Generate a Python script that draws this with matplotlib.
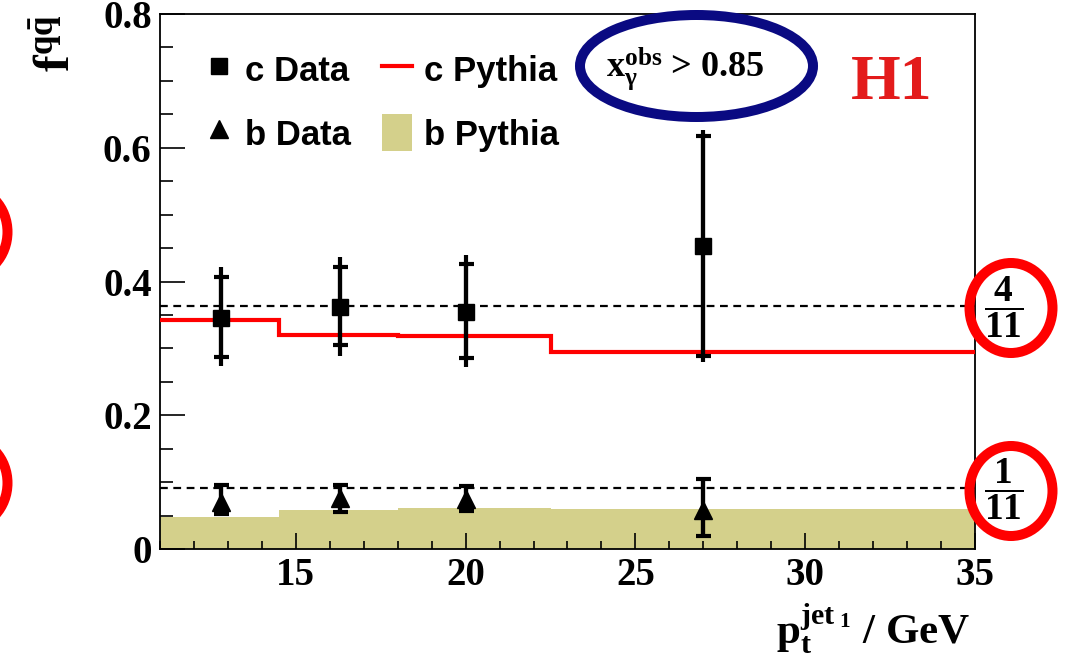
import numpy as np
import matplotlib
matplotlib.use('Agg')
import matplotlib.pyplot as plt
from matplotlib.patches import Ellipse, Patch
from matplotlib.lines import Line2D
from matplotlib.ticker import MultipleLocator

plt.rcParams['font.family'] = 'Liberation Serif'
plt.rcParams['font.weight'] = 'bold'
plt.rcParams['mathtext.fontset'] = 'custom'
plt.rcParams['mathtext.bf'] = 'Liberation Serif:bold'
plt.rcParams['mathtext.rm'] = 'Liberation Serif:bold'
plt.rcParams['mathtext.it'] = 'Liberation Serif:bold'

# charm data (points, stat and total errors)
x_data = [12.8, 16.3, 20.0, 27.0]
c_val = [0.345, 0.362, 0.355, 0.453]
c_stat_up = [0.061, 0.059, 0.071, 0.165]
c_stat_dn = [0.058, 0.057, 0.070, 0.164]
c_tot_up = [0.077, 0.075, 0.085, 0.174]
c_tot_dn = [0.072, 0.074, 0.083, 0.174]

# beauty data
b_val = [0.071, 0.076, 0.075, 0.059]
b_stat_up = [0.025, 0.020, 0.019, 0.046]
b_stat_dn = [0.019, 0.020, 0.018, 0.039]
b_tot_up = [0.026, 0.022, 0.021, 0.048]
b_tot_dn = [0.021, 0.022, 0.019, 0.041]

# pythia predictions (histograms)
edges = [11, 14.5, 18, 22.5, 35]
c_pythia = [0.342, 0.320, 0.318, 0.295]
b_pythia = [0.048, 0.059, 0.062, 0.060]

# charge counting reference levels
levels = [4 / 11, 1 / 11]
level_labels = [r'$\dfrac{\mathbf{4}}{\mathbf{11}}$', r'$\dfrac{\mathbf{1}}{\mathbf{11}}$']

yticks = [0, 0.2, 0.4, 0.6, 0.8]
yticklabels = ['0', '0.2', '0.4', '0.6', '0.8']
xticks = [15, 20, 25, 30, 35]

W, H = 1067, 667
fig = plt.figure(figsize=(W / 100, H / 100), dpi=100)
ax = fig.add_axes([160 / W, (H - 549) / H, 815 / W, 535 / H])

ax.stairs(b_pythia, edges, fill=True, color='#d4d08b', zorder=1)
for lv in levels:
    ax.axhline(lv, color='black', lw=1.6, ls=(0, (3.5, 2.5)), zorder=2)
ax.stairs(c_pythia, edges, color='red', lw=3, baseline=None, zorder=3)

ax.errorbar(x_data, c_val, yerr=[c_tot_dn, c_tot_up], fmt='none', ecolor='black',
            elinewidth=3, capsize=0, zorder=4)
ax.errorbar(x_data, c_val, yerr=[c_stat_dn, c_stat_up], fmt='none', ecolor='black',
            elinewidth=3, capsize=5.4, capthick=3, zorder=4)
ax.plot(x_data, c_val, 's', color='black', ms=12, zorder=5)

ax.errorbar(x_data, b_val, yerr=[b_tot_dn, b_tot_up], fmt='none', ecolor='black',
            elinewidth=3, capsize=0, zorder=4)
ax.errorbar(x_data, b_val, yerr=[b_stat_dn, b_stat_up], fmt='none', ecolor='black',
            elinewidth=3, capsize=5.4, capthick=3, zorder=4)
ax.plot(x_data, b_val, '^', color='black', ms=13, zorder=5)

ax.set_xlim(11, 35)
ax.set_ylim(0, 0.8)
ax.set_xticks(xticks)
ax.xaxis.set_minor_locator(MultipleLocator(1))
ax.set_yticks(yticks)
ax.set_yticklabels(yticklabels)
ax.yaxis.set_minor_locator(MultipleLocator(0.05))
ax.tick_params(axis='both', which='both', direction='in', top=False, right=False,
               width=1.2, labelsize=28)
ax.tick_params(axis='x', which='major', length=11.5, pad=6)
ax.tick_params(axis='x', which='minor', length=5.8)
ax.tick_params(axis='y', which='major', length=18, pad=6)
ax.tick_params(axis='y', which='minor', length=9)
for sp in ax.spines.values():
    sp.set_linewidth(1.3)

ax.set_xlabel(r'$\mathbf{p}_{\mathbf{t}}^{\mathbf{jet}_{\ \mathbf{1}}}$ / GeV',
              fontsize=31, fontweight='bold', loc='right')
ax.xaxis.set_label_coords(0.994, -0.097)
ax.set_ylabel(r'$\mathbf{f}^{\mathbf{q}\bar{\mathbf{q}}}$', fontsize=36,
              fontweight='bold', loc='top')
ax.yaxis.set_label_coords(-0.097, 1.0)

# legend
handles = [
    Line2D([], [], marker='s', color='black', ls='none', ms=12),
    Line2D([], [], marker='^', color='black', ls='none', ms=13),
    Line2D([], [], color='red', lw=3),
    Patch(facecolor='#d4d08b', edgecolor='none'),
]
labels = ['c Data', 'b Data', 'c Pythia', 'b Pythia']
ax.legend(handles, labels, ncol=2, loc='upper left', frameon=False,
          prop={'family': 'Liberation Sans', 'weight': 'bold', 'size': 25},
          bbox_to_anchor=(204 / W, 1 - 51 / H), bbox_transform=fig.transFigure,
          borderaxespad=0, borderpad=0, handlelength=0.84, handleheight=1.27,
          handletextpad=0.35, columnspacing=0.9, labelspacing=0.75, numpoints=1)

# annotations (positions in pixels of the 1067x667 canvas)
def px(x, y):
    return (x / 100, (H - y) / 100)

tr = fig.dpi_scale_trans
fig.patches.append(Ellipse(px(696.5, 66), 233 / 100, 102 / 100, transform=tr,
                           fill=False, edgecolor='#0a0a82', lw=7.2, zorder=10))
fig.text(606 / W, 1 - 77 / H, r'$\mathbf{x}_{\gamma}^{\mathbf{obs}}$ > 0.85',
         fontsize=26, ha='left', va='baseline', zorder=11)
fig.text(892 / W, 1 - 84 / H, 'H1', fontsize=46, color='#e31b1b',
         ha='center', va='center')

for cy in [308, 491]:
    fig.patches.append(Ellipse(px(1011, cy), 83 / 100, 90 / 100, transform=tr,
                               fill=False, edgecolor='red', lw=7.2, zorder=10))
for cy in [232, 483]:
    fig.patches.append(Ellipse(px(-34, cy), 83 / 100, 90 / 100, transform=tr,
                               fill=False, edgecolor='red', lw=7.2, zorder=10))
for cy, lab in zip([307, 489], level_labels):
    fig.text(1004 / W, 1 - cy / H, lab, fontsize=27, ha='center', va='center')

fig.savefig('out.png', dpi=100)
